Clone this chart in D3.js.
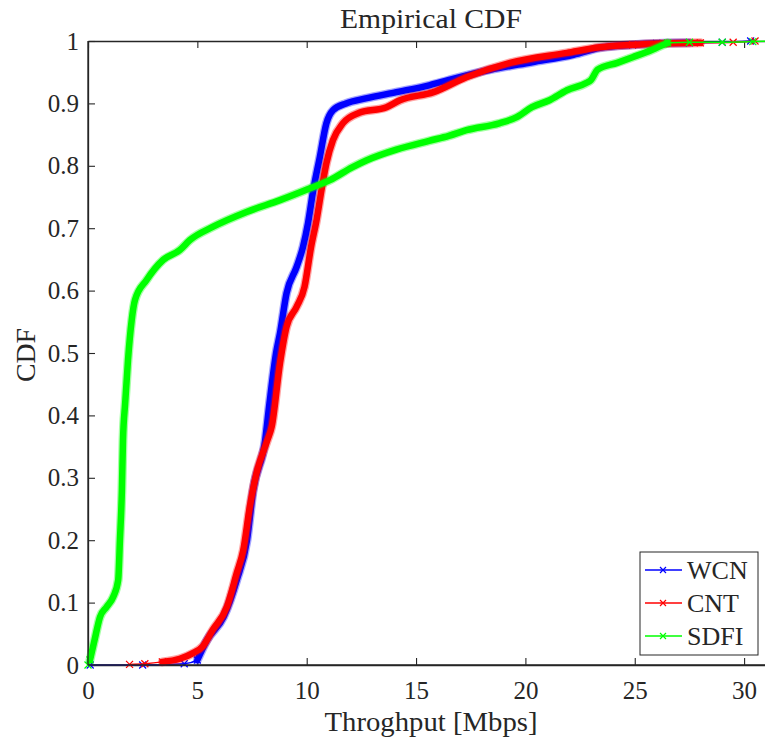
<!DOCTYPE html>
<html>
<head>
<meta charset="utf-8">
<script src="https://cdn.jsdelivr.net/npm/d3@7"></script>
<style>
  body { margin: 0; background: #fff; }
  text { font-family: 'Liberation Serif', 'DejaVu Serif', serif; fill: #262626; }
</style>
</head>
<body>
<div id="chart"></div>
<script>
// series names (legend order)
var seriesNames = ['WCN', 'CNT', 'SDFI']
var seriesColors = ['#0000ff', '#ff0000', '#00ff00']

// empirical CDF: throughput [Mbps] and cumulative probability
var wcnX = [0.1, 2.5, 4.4, 5.0, 5.44, 6.2, 6.8, 7.27, 7.55, 8.1, 8.3, 8.6, 8.78, 9.08, 9.54, 9.83, 10.06, 10.3, 10.6, 10.9, 11.2, 11.8, 12.7, 14.1, 15.6, 16.5, 18.4, 20.3, 22.2, 23.4, 24.9, 26.0, 27.5, 29.0, 30.3]
var wcnP = [0, 0, 0.002, 0.008, 0.04, 0.077, 0.136, 0.2, 0.28, 0.36, 0.42, 0.5, 0.532, 0.596, 0.638, 0.67, 0.708, 0.761, 0.814, 0.868, 0.889, 0.9, 0.908, 0.918, 0.929, 0.9375, 0.954, 0.966, 0.978, 0.989, 0.994, 0.996, 0.997, 0.998, 1]

var cntX = [1.9, 2.6, 3.4, 4.2, 4.8, 5.25, 5.7, 6.35, 6.8, 7.1, 7.4, 7.7, 8.2, 8.4, 8.78, 9.08, 9.54, 9.9, 10.2, 10.45, 10.7, 10.9, 11.2, 11.65, 12.4, 13.65, 14.26, 15.8, 17.3, 19.3, 21.9, 23.4, 24.9, 26.3, 28.0, 29.5, 30.5]
var cntP = [0.001, 0.002, 0.005, 0.01, 0.019, 0.03, 0.056, 0.093, 0.147, 0.184, 0.254, 0.307, 0.36, 0.382, 0.484, 0.542, 0.574, 0.606, 0.67, 0.713, 0.766, 0.804, 0.841, 0.868, 0.885, 0.894, 0.905, 0.918, 0.942, 0.965, 0.981, 0.99, 0.994, 0.996, 0.997, 0.998, 1]

var sdfiX = [0, 0.09, 0.3, 0.55, 0.85, 1.15, 1.38, 1.46, 1.55, 1.6, 1.7, 1.83, 2.0, 2.15, 2.68, 3.43, 4.2, 4.66, 5.7, 7.25, 8.78, 10.3, 11.06, 12.1, 12.75, 14.1, 15.6, 16.5, 17.3, 18.8, 19.6, 20.3, 21.1, 21.9, 22.8, 23.0, 23.3, 24.2, 24.9, 25.8, 26.5, 27.5, 29.0, 30.4, 31.3]
var sdfiP = [0, 0.008, 0.04, 0.077, 0.093, 0.109, 0.136, 0.2, 0.28, 0.36, 0.42, 0.489, 0.553, 0.585, 0.617, 0.649, 0.665, 0.681, 0.702, 0.726, 0.745, 0.766, 0.777, 0.798, 0.809, 0.826, 0.84, 0.848, 0.857, 0.868, 0.878, 0.894, 0.905, 0.921, 0.933, 0.9375, 0.954, 0.965, 0.974, 0.986, 0.997, 0.998, 0.998, 0.999, 1]

// tick labels
var xTicks = [0, 5, 10, 15, 20, 25, 30]
var yTicks = [0, 0.1, 0.2, 0.3, 0.4, 0.5, 0.6, 0.7, 0.8, 0.9, 1]

var seriesX = [wcnX, cntX, sdfiX]
var seriesP = [wcnP, cntP, sdfiP]

var margin = { top: 41, left: 88 }
var xMax = 31.35
var width = 21.87 * xMax
var height = 624

var svg = d3.select('#chart')
  .append('svg')
  .attr('width', 765)
  .attr('height', 740)

var g = svg.append('g')
  .attr('transform', 'translate(' + margin.left + ',' + margin.top + ')')

var x = d3.scaleLinear().domain([0, xMax]).range([0, width])
var y = d3.scaleLinear().domain([0, 1]).range([height, 0])

var axisColor = '#262626'

// axes with inward ticks
var xAxis = g.append('g')
  .attr('transform', 'translate(0,' + height + ')')
  .call(d3.axisBottom(x).tickValues(xTicks).tickFormat(d3.format('d')).tickSizeInner(-7).tickSizeOuter(0).tickPadding(16))
var xTop = g.append('g')
  .call(d3.axisTop(x).tickValues(xTicks).tickSizeInner(-7).tickSizeOuter(0).tickFormat(''))
var yAxis = g.append('g')
  .call(d3.axisLeft(y).tickValues(yTicks).tickFormat(function (d) { return d === 0 || d === 1 ? d : d3.format('.1f')(d) }).tickSizeInner(-7).tickSizeOuter(0).tickPadding(9))

;[xAxis, xTop, yAxis].forEach(function (a) {
  a.selectAll('.domain').attr('stroke', axisColor).attr('stroke-width', 1.3)
  a.selectAll('.tick line').attr('stroke', axisColor).attr('stroke-width', 1.1)
  a.selectAll('text').style('font-size', '25px').attr('fill', axisColor)
})

// curves
var line = d3.line()
  .curve(d3.curveMonotoneX)
  .x(function (d) { return x(d.x) })
  .y(function (d) { return y(d.p) })

function crossPath (cx, cy, s) {
  return 'M' + (cx - s) + ',' + (cy - s) + 'L' + (cx + s) + ',' + (cy + s) +
    'M' + (cx - s) + ',' + (cy + s) + 'L' + (cx + s) + ',' + (cy - s)
}

var plot = g.append('g')
seriesNames.forEach(function (name, i) {
  var pts = seriesX[i].map(function (v, k) { return { x: v, p: seriesP[i][k] } })
  var color = seriesColors[i]
  var dense = pts.filter(function (d) { return d.p >= 0.004 && d.p <= 0.997 })
  var sparse = pts.filter(function (d) { return d.p < 0.01 || d.p > 0.99 })

  plot.append('path')
    .datum(pts)
    .attr('d', line)
    .attr('fill', 'none')
    .attr('stroke', color)
    .attr('stroke-width', 1.5)

  // dense x markers blur into a thick band
  plot.append('path')
    .datum(dense)
    .attr('d', line)
    .attr('fill', 'none')
    .attr('stroke', color)
    .attr('stroke-opacity', 0.35)
    .attr('stroke-width', 9)
    .attr('stroke-linejoin', 'round')
    .attr('stroke-linecap', 'round')
  plot.append('path')
    .datum(dense)
    .attr('d', line)
    .attr('fill', 'none')
    .attr('stroke', color)
    .attr('stroke-width', 6.5)
    .attr('stroke-linejoin', 'round')
    .attr('stroke-linecap', 'round')

  plot.selectAll('.mk' + i)
    .data(sparse)
    .enter()
    .append('path')
    .attr('d', function (d) { return crossPath(x(d.x), y(d.p), 3.5) })
    .attr('stroke', color)
    .attr('stroke-width', 1.2)
    .attr('fill', 'none')
})

// axis box lines on top of curves
g.append('line').attr('x1', 0).attr('x2', width).attr('y1', height).attr('y2', height)
  .attr('stroke', axisColor).attr('stroke-width', 1.3)
g.append('line').attr('x1', 0).attr('x2', 0).attr('y1', 0).attr('y2', height)
  .attr('stroke', axisColor).attr('stroke-width', 1.3)

// title and labels
svg.append('text')
  .attr('x', 431).attr('y', 28)
  .attr('text-anchor', 'middle')
  .attr('textLength', 182)
  .attr('lengthAdjust', 'spacingAndGlyphs')
  .style('font-size', '27px')
  .text('Empirical CDF')

svg.append('text')
  .attr('x', 431).attr('y', 731)
  .attr('text-anchor', 'middle')
  .attr('textLength', 213)
  .attr('lengthAdjust', 'spacingAndGlyphs')
  .style('font-size', '27px')
  .text('Throghput [Mbps]')

svg.append('text')
  .attr('transform', 'translate(35,355) rotate(-90)')
  .attr('text-anchor', 'middle')
  .attr('textLength', 54)
  .attr('lengthAdjust', 'spacingAndGlyphs')
  .style('font-size', '27px')
  .text('CDF')

// legend
var legend = svg.append('g').attr('transform', 'translate(640,552)')
legend.append('rect')
  .attr('width', 118).attr('height', 103)
  .attr('fill', '#fff')
  .attr('stroke', '#262626')
  .attr('stroke-width', 1)

seriesNames.forEach(function (name, i) {
  var ly = 18 + i * 33
  legend.append('line')
    .attr('x1', 5).attr('x2', 42).attr('y1', ly).attr('y2', ly)
    .attr('stroke', seriesColors[i]).attr('stroke-width', 1.3)
  legend.append('path')
    .attr('d', crossPath(23, ly, 3))
    .attr('stroke', seriesColors[i]).attr('stroke-width', 1.2)
  legend.append('text')
    .attr('x', 47).attr('y', ly + 9)
    .style('font-size', '26px')
    .text(name)
})
</script>
</body>
</html>
